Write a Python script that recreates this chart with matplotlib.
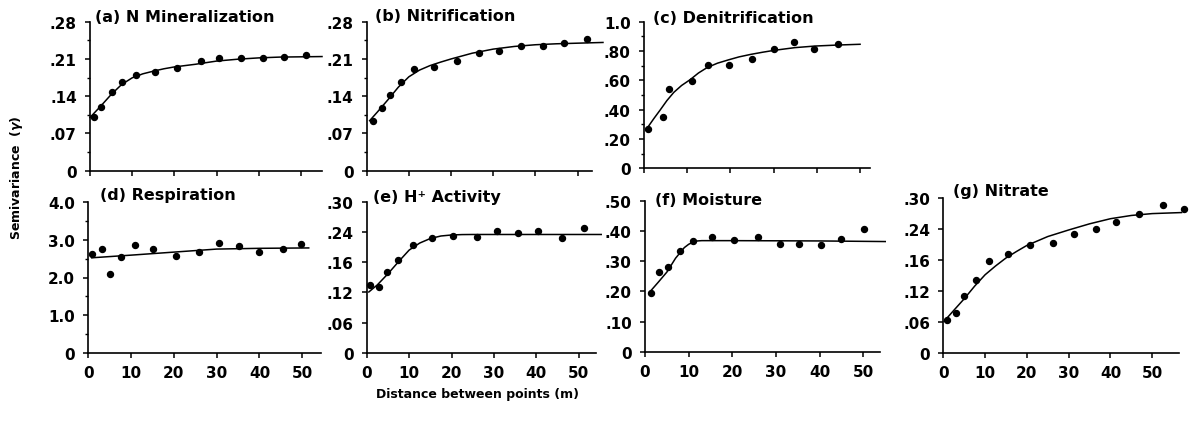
import matplotlib.pyplot as plt

plt.rcParams['font.family'] = ['DejaVu Sans']
plt.rcParams['font.weight'] = 'bold'

# ---- values ----
# (a) N mineralization
a_x = [0.9, 2.7, 5.3, 7.7, 11.0, 15.3, 20.6, 26.2, 30.7, 35.9, 40.9, 45.9, 51.1]
a_y = [0.100, 0.119, 0.148, 0.166, 0.180, 0.185, 0.193, 0.207, 0.212, 0.2115, 0.212, 0.2135, 0.2165]
a_fit_x = [0, 2.5, 5, 7.5, 10, 12.5, 15, 17.5, 20, 25, 30, 35, 40, 45, 55]
a_fit_y = [0.100, 0.121, 0.143, 0.162, 0.1745, 0.182, 0.187, 0.1915, 0.195, 0.200, 0.206, 0.2095, 0.212, 0.2135, 0.2145]

# (b) nitrification
b_x = [1.6, 3.7, 5.5, 8.1, 11.3, 16.0, 21.4, 26.5, 31.4, 36.5, 41.7, 46.8, 52.1]
b_y = [0.093, 0.117, 0.142, 0.166, 0.191, 0.194, 0.206, 0.2215, 0.225, 0.234, 0.235, 0.2405, 0.2475]
b_fit_x = [0.7, 2.5, 5, 7.5, 10, 12.5, 15, 17.5, 20, 25, 30, 35, 40, 45, 56]
b_fit_y = [0.094, 0.110, 0.133, 0.157, 0.1765, 0.189, 0.1975, 0.204, 0.210, 0.2208, 0.2285, 0.2335, 0.2367, 0.2385, 0.241]

# (c) denitrification
c_x = [1.0, 4.4, 5.8, 11.0, 14.9, 19.7, 25.0, 30.0, 34.7, 39.3, 44.8]
c_y = [0.269, 0.348, 0.539, 0.595, 0.706, 0.704, 0.746, 0.816, 0.864, 0.814, 0.851]
c_fit_x = [0.8, 2.3, 3.8, 5.3, 6.9, 8.7, 10.7, 12.6, 14.6, 17.0, 19.7, 22.0, 24.7, 27.5, 30.2, 34.9, 39.6, 45, 50]
c_fit_y = [0.277, 0.340, 0.400, 0.462, 0.518, 0.565, 0.605, 0.650, 0.687, 0.717, 0.741, 0.760, 0.777, 0.792, 0.805, 0.823, 0.834, 0.841, 0.846]

# (d) respiration
d_x = [0.8, 3.1, 5.1, 7.7, 10.9, 15.2, 20.5, 25.9, 30.5, 35.3, 39.8, 45.5, 49.8]
d_y = [2.62, 2.75, 2.10, 2.55, 2.87, 2.76, 2.58, 2.66, 2.91, 2.82, 2.68, 2.76, 2.88]
d_fit_x = [0.8, 10, 20, 30, 40, 51.5]
d_fit_y = [2.52, 2.59, 2.67, 2.75, 2.77, 2.78]

# (e) H+ activity (printed tick labels: 0 .06 .12 .16 .24 .30)
e_x = [0.8, 2.9, 4.9, 7.3, 10.8, 15.3, 20.4, 26.0, 30.8, 35.7, 40.4, 46.0, 51.2]
e_y = [0.134, 0.130, 0.161, 0.184, 0.215, 0.2275, 0.231, 0.230, 0.241, 0.237, 0.2425, 0.228, 0.248]
e_fit_x = [0.5, 2.5, 5, 7.5, 10, 12.5, 15, 17.5, 20, 22.5, 25, 55.3]
e_fit_y = [0.121, 0.135, 0.157, 0.181, 0.204, 0.218, 0.227, 0.232, 0.234, 0.2348, 0.235, 0.235]

# (f) moisture
f_x = [1.3, 3.1, 5.3, 7.9, 11.1, 15.4, 20.4, 25.8, 30.8, 35.3, 40.4, 44.9, 50.2]
f_y = [0.196, 0.266, 0.280, 0.334, 0.367, 0.379, 0.371, 0.381, 0.358, 0.356, 0.353, 0.373, 0.408]
f_fit_x = [1.0, 3, 5, 7, 9, 10, 11, 12, 13, 20, 40, 55]
f_fit_y = [0.197, 0.230, 0.264, 0.310, 0.345, 0.356, 0.363, 0.367, 0.368, 0.368, 0.367, 0.365]

# (g) nitrate (printed tick labels: 0 .06 .12 .16 .24 .30)
g_x = [0.8, 3.0, 5.0, 7.8, 10.9, 15.4, 20.8, 26.2, 31.2, 36.5, 41.4, 46.8, 52.5, 57.6]
g_y = [0.0644, 0.078, 0.1105, 0.1426, 0.178, 0.193, 0.209, 0.214, 0.230, 0.241, 0.255, 0.270, 0.2866, 0.2795]
g_fit_x = [0.2, 2.5, 5, 7.5, 10, 12.5, 15, 17.5, 20, 25, 30, 35, 40, 45, 50, 57]
g_fit_y = [0.062, 0.083, 0.1055, 0.130, 0.152, 0.169, 0.1845, 0.197, 0.2088, 0.226, 0.2387, 0.2506, 0.2605, 0.2668, 0.2704, 0.2724]

titles = ['(a) N Mineralization', '(b) Nitrification', '(c) Denitrification',
          '(d) Respiration', '(e) H\u207a Activity', '(f) Moisture', '(g) Nitrate']

ytick_vals = [
    [0, 0.07, 0.14, 0.21, 0.28],
    [0, 0.07, 0.14, 0.21, 0.28],
    [0, 0.2, 0.4, 0.6, 0.8, 1.0],
    [0, 1, 2, 3, 4],
    [0, 0.06, 0.12, 0.18, 0.24, 0.30],
    [0, 0.1, 0.2, 0.3, 0.4, 0.5],
    [0, 0.06, 0.12, 0.18, 0.24, 0.30],
]
ytick_labels = [
    ['0', '.07', '.14', '.21', '.28'],
    ['0', '.07', '.14', '.21', '.28'],
    ['0', '.20', '.40', '.60', '.80', '1.0'],
    ['0', '1.0', '2.0', '3.0', '4.0'],
    ['0', '.06', '.12', '.16', '.24', '.30'],
    ['0', '.10', '.20', '.30', '.40', '.50'],
    ['0', '.06', '.12', '.16', '.24', '.30'],
]

series = [(a_x, a_y, a_fit_x, a_fit_y), (b_x, b_y, b_fit_x, b_fit_y),
          (c_x, c_y, c_fit_x, c_fit_y), (d_x, d_y, d_fit_x, d_fit_y),
          (e_x, e_y, e_fit_x, e_fit_y), (f_x, f_y, f_fit_x, f_fit_y),
          (g_x, g_y, g_fit_x, g_fit_y)]

# layout in pixels: left, right, top, bottom, x max, title offset (px)
W, H = 1193, 431
boxes = [
    (90, 322, 22.7, 171.7, 55.0, 5, 5.3),
    (366.7, 592, 22.7, 171.7, 53.4, 8, 6),
    (644, 870, 22.7, 169.3, 52.3, 9, 4),
    (88.3, 320.7, 202.7, 354.3, 54.3, 12, 7.5),
    (366.7, 595.7, 202.7, 354, 54.0, 6.5, 5.5),
    (645, 880, 201.7, 353, 53.8, 10, 1.5),
    (943.3, 1179, 199.3, 354.3, 56.4, 10, 7.5),
]
minors = [True, True, True, True, False, False, False]

fig = plt.figure(figsize=(W / 100, H / 100), dpi=100)

for i, (l, r, t, b, xmax, tdx, tdy) in enumerate(boxes):
    ax = fig.add_axes([l / W, 1 - b / H, (r - l) / W, (b - t) / H])
    x, y, fx, fy = series[i]
    ax.plot(fx, fy, color='black', lw=1.1, clip_on=False)
    ax.plot(x, y, 'o', color='black', ms=4.3, clip_on=False)

    yt = ytick_vals[i]
    ax.set_xlim(0, xmax)
    ax.set_ylim(0, yt[-1])
    ax.set_yticks(yt)
    ax.set_yticklabels(ytick_labels[i])
    if minors[i]:
        ax.set_yticks([(yt[k] + yt[k + 1]) / 2 for k in range(len(yt) - 1)], minor=True)
    ax.set_xticks([0, 10, 20, 30, 40, 50])
    if i < 3:
        ax.set_xticklabels([])

    for s in ['top', 'right']:
        ax.spines[s].set_visible(False)
    for s in ['left', 'bottom']:
        ax.spines[s].set_linewidth(1.2)
    ax.tick_params(axis='both', which='major', direction='out', length=3.5, width=1.1,
                   labelsize=11, color='black')
    ax.tick_params(axis='y', which='major', pad=6)
    ax.tick_params(axis='x', which='major', pad=5)
    ax.tick_params(axis='y', which='minor', direction='out', length=2.5, width=1.0)

    ax.annotate(titles[i], xy=(0, 1), xycoords='axes fraction',
                xytext=(tdx * 0.72, tdy * 0.72), textcoords='offset points',
                ha='left', va='center', fontsize=11.5, fontweight='bold')

fig.text(16.7 / W, 1 - 178 / H, 'Semivariance  ($\\gamma$)', rotation=90,
         ha='center', va='center', fontsize=9, fontweight='bold')
fig.text(478 / W, 1 - 395 / H, 'Distance between points (m)',
         ha='center', va='center', fontsize=9, fontweight='bold')

fig.savefig('out.png', dpi=100)
